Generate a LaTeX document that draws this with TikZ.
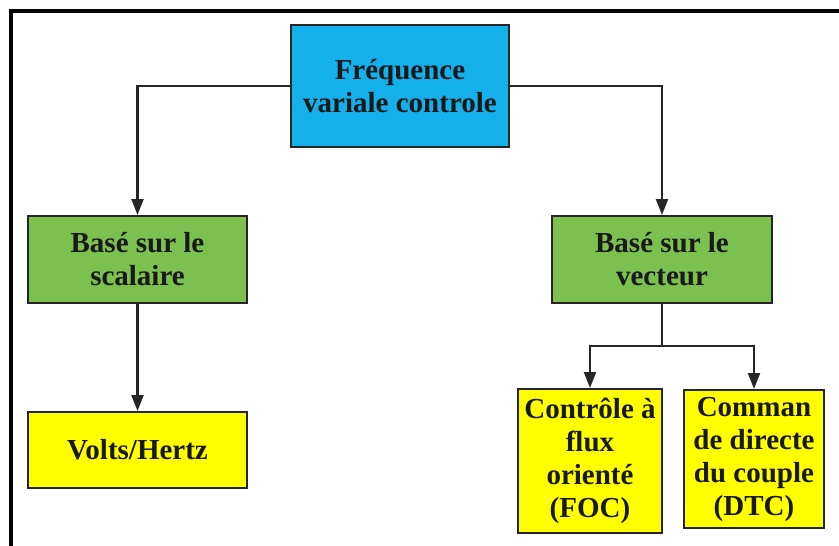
\documentclass[tikz,border=0pt]{standalone}
\usepackage{fontspec}
\setmainfont{Liberation Serif}
\usetikzlibrary{arrows.meta}
\definecolor{cblue}{RGB}{20,176,236}
\definecolor{cgreen}{RGB}{124,193,80}
\definecolor{cyellow}{RGB}{255,255,0}
\tikzset{
  box/.style={draw=black!85, line width=2pt, align=center, inner sep=0pt,
    font=\fontsize{29}{33}\selectfont\bfseries, text=black!90},
  arr/.style={line width=2.2pt, draw=black!85, -{Triangle[length=16pt,width=12pt]}},
  ln/.style={line width=2.2pt, draw=black!85},
}
\begin{document}
\begin{tikzpicture}[x=1pt,y=-1pt]
\useasboundingbox (0,0) rectangle (839,546);
\draw[line width=3.5pt] (11,546) -- (11,11) -- (839,11);
\node[box, fill=cblue, minimum width=218pt, minimum height=122pt] (top) at (400,86) {Fréquence\\variale controle};
\node[box, fill=cgreen, minimum width=219pt, minimum height=87pt] (lg) at (137.5,259.5) {Basé sur le\\scalaire};
\node[box, fill=cgreen, minimum width=220pt, minimum height=87pt] (rg) at (662,259.5) {Basé sur le\\vecteur};
\node[box, fill=cyellow, minimum width=219pt, minimum height=76pt] (vh) at (137.5,450) {Volts/Hertz};
\node[box, fill=cyellow, minimum width=144pt, minimum height=144pt] (foc) at (590,461) {Contrôle à\\flux\\orienté\\(FOC)};
\node[box, fill=cyellow, minimum width=140pt, minimum height=138pt] (dtc) at (754,459) {Comman\\de directe\\du couple\\(DTC)};
\coordinate (split) at (662,346);
\draw[arr] (top.west) -| (lg.north);
\draw[arr] (top.east) -| (rg.north);
\draw[arr] (lg.south) -- (vh.north);
\draw[ln] (rg.south) -- (split);
\draw[arr] (split) -| (foc.north);
\draw[arr] (split) -| (dtc.north);
\end{tikzpicture}
\end{document}
